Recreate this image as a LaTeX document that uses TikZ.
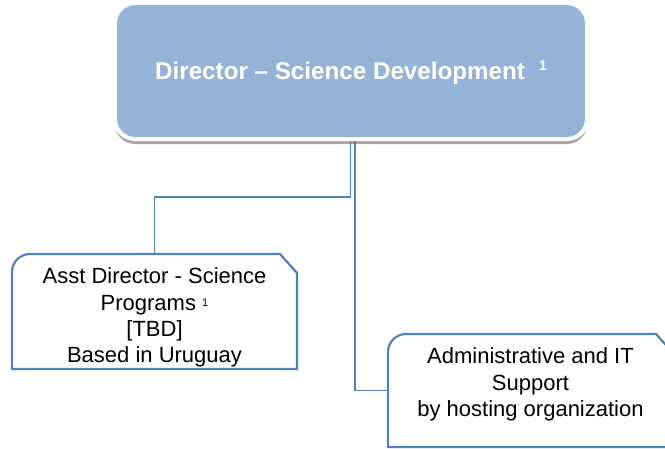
\documentclass[tikz,border=0pt]{standalone}
\usepackage{fontspec}
\setmainfont{Liberation Sans}
\usetikzlibrary{calc,positioning,shadows}
\definecolor{boxfill}{HTML}{95B3D7}
\definecolor{boxline}{HTML}{4F81BD}
\definecolor{shadowgrey}{HTML}{A6A6A6}
\newcommand{\supmark}[2]{\raisebox{#2}{\fontsize{#1}{#1}\selectfont 1}}

\begin{document}
\begin{tikzpicture}[x=1pt,y=1pt]

\tikzset{topnode/.style={font=\fontsize{24.2}{26}\selectfont\bfseries,text=white,fill=boxfill,draw=white,line width=4pt,rounded corners=20pt,minimum width=472pt,minimum height=136pt,inner sep=0pt,text height=17pt,text depth=0pt,
drop shadow={shadow xshift=0pt,shadow yshift=-5pt,fill=shadowgrey,opacity=1}},
textnode/.style={font=\fontsize{22}{26.3}\selectfont,align=center,anchor=north,minimum width=285pt,inner xsep=0pt,inner ysep=14pt,outer sep=0pt},
outline/.style={draw=boxline,line width=2.2pt,line join=miter},
link/.style={draw=boxline,line width=1.3pt}}

\useasboundingbox (0,0) rectangle (665,-448);
\clip (0,0) rectangle (665,-448);

% Top node
\node (dir) [topnode] at (351,-71) {Director -- Science Development\hspace{14pt}\supmark{14}{9pt}};

% Lower nodes
\node (asst) [textnode] at (154.5,-254) {Asst Director - Science\\Programs \supmark{11}{4pt}\\{}[TBD]\\Based in Uruguay};
\node (admin) [textnode] at (530.5,-334) {Administrative and IT\\Support\\by hosting organization};

% Outlines
\draw[outline] ($(asst.north west)+(0,-115)$) -- ([yshift=-18pt]asst.north west) arc[start angle=180,end angle=90,radius=18pt] -- ([xshift=-17pt]asst.north east) -- ([yshift=-19pt]asst.north east) -- ($(asst.north east)+(0,-115)$) -- cycle;
\draw[outline] ($(admin.north west)+(0,-113)$) -- ([yshift=-18pt]admin.north west) arc[start angle=180,end angle=90,radius=18pt] -- ([xshift=-17pt]admin.north east) -- ([yshift=-19pt]admin.north east) -- ($(admin.north east)+(0,-113)$) -- cycle;

% Edges
\draw[link] ([xshift=-0.5pt]dir.south) -- ++(0,-56) -| (asst.north);
\draw[link] ([xshift=4pt]dir.south) |- ($(admin.north west)+(0,-56.5)$);

\end{tikzpicture}
\end{document}
